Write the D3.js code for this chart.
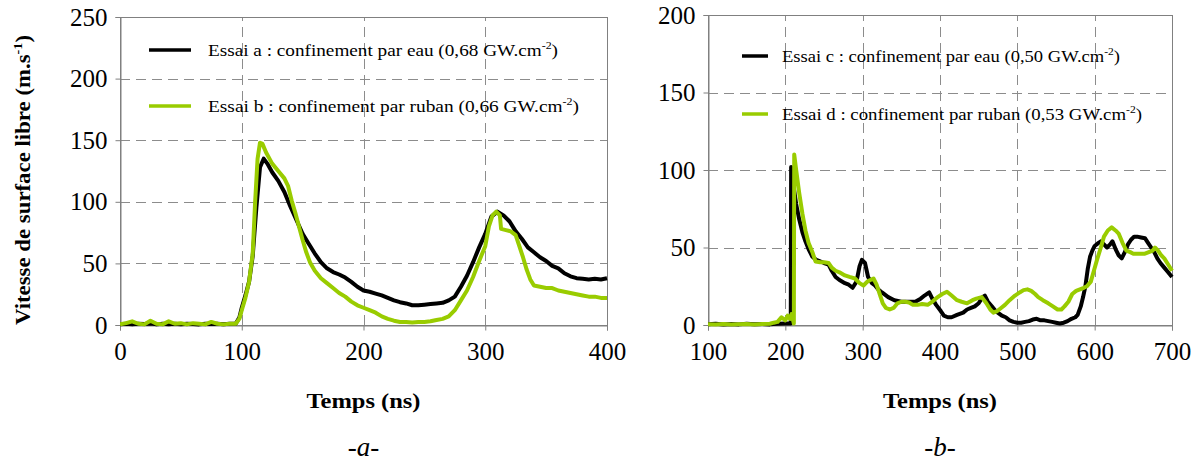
<!DOCTYPE html>
<html><head><meta charset="utf-8">
<script src="https://cdn.jsdelivr.net/npm/d3@7"></script>
<style>
body{margin:0;background:#fff;}
svg text{font-family:"Liberation Serif","Times New Roman",Times,serif !important;fill:#000;}
</style></head>
<body><svg id="c" width="1204" height="461"></svg>
<script>
// ---------- DATA ----------
const timeA = [0,5,10,15,20,25,30,35,40,45,50,55,60,65,70,75,80,85,90,95,98,100,103,106,109,112,115,118,121,125,130,135,140,145,150,155,160,165,170,175,180,185,190,195,200,205,210,215,220,225,230,235,240,245,250,255,260,265,270,275,280,285,290,295,300,305,310,315,320,325,330,335,340,345,350,355,360,365,370,375,380,385,390,395,400];
const speedA = [0.5,1,0.5,1,0.8,1.2,0.5,1,0.7,1,0.6,1,0.8,0.5,1,0.8,1,0.6,1,1,6,14,24,35,56,95,128,135,131,124,117,108,96,85,74,66,58,51,46,43,41,38.5,35,31,28,27,25.5,24,22,20,18.5,17.5,16,16,16.5,17,17.5,18,20,23,31,40,51,63,74,88,92,89,84,76,70,63,59,55,52,48,46,42,39.5,38,37.5,37,37.5,37,38];
const timeB = [0,5,10,15,20,25,30,35,40,45,50,55,60,65,70,75,80,85,90,95,98,100,103,106,109,111,113,115,117,120,125,130,135,138,141,144,147,150,153,156,160,165,170,175,180,185,190,195,200,205,210,215,220,225,230,235,240,245,250,255,260,265,270,275,280,285,290,295,300,303,306,309,312,313,317,321,325,328,331,334,337,340,345,350,355,360,365,370,375,380,385,390,395,400];
const speedB = [0.5,1.5,3,1,0.5,3.5,1,0.5,3,1,1.5,0.5,1.5,1,0.5,2.5,1,0.5,1,1,5,12,22,35,58,100,135,148,147,140,131,125,119,113,101,91,80,69,59,51,44,38,34,30,26,23,19,16,14,12,10,7,5,3.5,2.5,2.5,2,2.5,2.5,3,4,5,7,12,20,28,39,52,64,80,89,92,89,78,77,76,73,64,55,45,37,32,31,30,30,28,27,26,25,24,23,23,22,22];
const timeC = [100,110,120,130,140,150,160,170,180,190,200,205,207,207.5,210,214,218,222,226,230,235,240,245,250,256,260,265,270,277,282,287,292,296,299,303,307,312,316,320,325,333,341,350,360,368,375,380,386,390,395,401,405,410,415,422,430,435,440,445,450,455,458,462,467,472,476,480,485,490,495,500,505,510,515,520,525,530,535,540,545,550,555,560,565,570,575,578,582,585,588,591,594,597,600,605,608,612,616,620,623,627,631,635,639,643,647,651,655,660,665,669,673,677,681,685,690,695,700];
const speedC = [0.5,0.8,0.3,0.6,0.4,0.8,0.5,0.7,0.4,0.8,1,1,1,102,92,78,68,60,54,49,44,42,41,40,39,35,31,29,27,26,24,28,38,42,40,31,27,25.5,23,21,18,16,15,15,15,17,19,21,17,13,9,6,5,5,6.5,8,10,11,12,14,18,19,15,12,9,7.5,6,5,3,2,1.5,1.5,2,2.5,3.5,4,3,3,2.5,2,1.5,1,1.5,2.5,4,5,6.5,12,18,25,36,44,48,51,53,54,52,50,52,54,49,45,43,47,52,55,57,57,56.5,56,53,50,47,43,40,37,34,31];
const timeD = [100,110,120,130,140,150,160,170,180,185,190,195,200,203,206,208,210,211,211.5,214,218,222,226,230,235,239,245,250,256,260,265,270,277,283,290,296,301,306,310,314,318,322,326,330,335,340,345,350,355,360,365,371,377,384,390,397,403,409,415,422,428,435,442,447,454,460,465,469,474,479,484,490,497,503,508,513,518,523,527,533,540,546,552,557,561,566,571,576,581,586,590,595,599,603,608,612,617,622,627,631,636,641,646,650,655,660,665,670,675,678,682,686,690,695,700];
const speedD = [0.5,0.3,0.6,0.4,0.5,0.7,0.4,0.6,0.8,1.5,2,5,3,6,4,7,3,1,110,100,85,72,61,53,47,41,40.5,40.5,40,37,35,34,32,31,30,27,25.5,28,29,30,26,20,14,11,10,11,14,15,15,14.5,13,13,13.5,13,15,18,20,21.5,19,16,15,14,16,17,18,14,10,8,9,11,13,16,19,21,22.5,23,22,20,18,16,14,12,10,10,12,15,20,22,23,24,25,28,35,42,50,57,61,63,61,59,53,48,47,46,46,46,46,47,48,50,48,45,43,39,35];

const ticksXa = [0,100,200,300,400];
const ticksYa = [0,50,100,150,200,250];
const ticksXb = [100,200,300,400,500,600,700];
const ticksYb = [0,50,100,150,200];

const legendA = [{pre:"Essai a : confinement par eau (0,68 GW.cm",sup:"-2",post:")",color:"#000"},
                 {pre:"Essai b : confinement par ruban (0,66 GW.cm",sup:"-2",post:")",color:"#99cc00"}];
const legendB = [{pre:"Essai c : confinement par eau (0,50 GW.cm",sup:"-2",post:")",color:"#000"},
                 {pre:"Essai d : confinement par ruban (0,53 GW.cm",sup:"-2",post:")",color:"#99cc00"}];

// ---------- DRAW ----------
const svg = d3.select("#c");
const GREEN = "#99cc00", GRID="#8c8c8c", AX="#808080";
const FONT = '"Liberation Serif","Times New Roman",Times,serif';

function panel(o){
  const g = svg.append("g");
  const x = d3.scaleLinear().domain(o.xdom).range([o.x0,o.x1]);
  const y = d3.scaleLinear().domain(o.ydom).range([o.y0,o.y1]);
  g.selectAll(".hg").data(o.ty.filter(v=>v>o.ydom[0]&&v<o.ydom[1])).enter().append("line")
    .attr("x1",o.x0).attr("x2",o.x1).attr("y1",d=>Math.round(y(d))+0.5).attr("y2",d=>Math.round(y(d))+0.5)
    .attr("stroke",GRID).attr("stroke-dasharray","10,6");
  g.selectAll(".vg").data(o.tx.filter(v=>v>o.xdom[0]&&v<o.xdom[1])).enter().append("line")
    .attr("y1",o.y0).attr("y2",o.y1).attr("x1",d=>Math.round(x(d))+0.5).attr("x2",d=>Math.round(x(d))+0.5)
    .attr("stroke",GRID).attr("stroke-dasharray","10,6");
  g.append("rect").attr("x",o.x0+0.5).attr("y",o.y1+0.5).attr("width",o.x1-o.x0).attr("height",o.y0-o.y1)
    .attr("fill","none").attr("stroke",AX);
  const ax = g.append("g").attr("transform",`translate(0,${o.y0+0.5})`)
    .call(d3.axisBottom(x).tickValues(o.tx).tickSize(5).tickPadding(8));
  const ay = g.append("g").attr("transform",`translate(${o.x0+0.5},0)`)
    .call(d3.axisLeft(y).tickValues(o.ty).tickSize(5).tickPadding(8));
  [ax,ay].forEach(a=>{a.attr("font-family",FONT).attr("font-size",25);
    a.select(".domain").attr("stroke",AX);a.selectAll(".tick line").attr("stroke",AX);
    a.selectAll("text").attr("font-size",25).style("font-family",FONT);});
  ax.selectAll("text").attr("dy","0.85em");
  const clipId = "clip"+o.id;
  svg.append("clipPath").attr("id",clipId).append("rect").attr("x",o.x0).attr("y",o.y1-4).attr("width",o.x1-o.x0+2).attr("height",o.y0-o.y1+6);
  const line = d3.line().x(d=>x(d[0])).y(d=>y(d[1]));
  o.series.forEach(s=>{
    g.append("path").datum(s.t.map((t,i)=>[t,s.v[i]])).attr("d",line)
      .attr("fill","none").attr("stroke",s.color).attr("stroke-width",4).attr("stroke-linejoin","round")
      .attr("clip-path",`url(#${clipId})`);
  });
  o.legend.forEach((L,i)=>{
    const ly = o.ly[i];
    g.append("line").attr("x1",o.lx0).attr("x2",o.lx1).attr("y1",ly).attr("y2",ly).attr("stroke",L.color).attr("stroke-width",3.5);
    const t = g.append("text").attr("x",o.tx0).attr("y",ly+6).attr("font-size",o.lfs).style("font-family",FONT);
    t.append("tspan").text(L.pre);
    t.append("tspan").attr("dy",-7).attr("font-size",o.lfs*0.62).text(L.sup);
    t.append("tspan").attr("dy",7).text(L.post);
    if(o.tlen) t.attr("textLength",o.tlen[i]).attr("lengthAdjust","spacingAndGlyphs");
  });
  g.append("text").attr("x",(o.x0+o.x1)/2).attr("y",408).attr("text-anchor","middle")
    .attr("font-size",21).attr("font-weight","bold").style("font-family",FONT)
    .attr("textLength",114).attr("lengthAdjust","spacingAndGlyphs").text("Temps (ns)");
  g.append("text").attr("x",(o.x0+o.x1)/2).attr("y",456).attr("text-anchor","middle")
    .attr("font-size",27).attr("font-style","italic").style("font-family",FONT).text(o.label);
}

panel({id:"a",xdom:[0,400],ydom:[0,250],x0:120,x1:607,y0:325,y1:17,tx:ticksXa,ty:ticksYa,
  series:[{t:timeA,v:speedA,color:"#000"},{t:timeB,v:speedB,color:GREEN}],
  legend:legendA,ly:[50,106],lx0:149,lx1:191,tx0:208,lfs:17,tlen:[350,371],label:"-a-"});
panel({id:"b",xdom:[100,700],ydom:[0,200],x0:708,x1:1172,y0:325,y1:15,tx:ticksXb,ty:ticksYb,
  series:[{t:timeC,v:speedC,color:"#000"},{t:timeD,v:speedD,color:GREEN}],
  legend:legendB,ly:[56,114],lx0:742,lx1:768,tx0:782,lfs:16,tlen:[338,360],label:"-b-"});

const yt = svg.append("text").attr("transform","translate(30,180) rotate(-90)").attr("text-anchor","middle")
  .attr("font-size",21).attr("font-weight","bold").style("font-family",FONT).attr("textLength",290).attr("lengthAdjust","spacingAndGlyphs");
yt.append("tspan").text("Vitesse de surface libre (m.s");
yt.append("tspan").attr("dy",-8).attr("font-size",13).text("-1");
yt.append("tspan").attr("dy",8).text(")");
</script></body></html>
